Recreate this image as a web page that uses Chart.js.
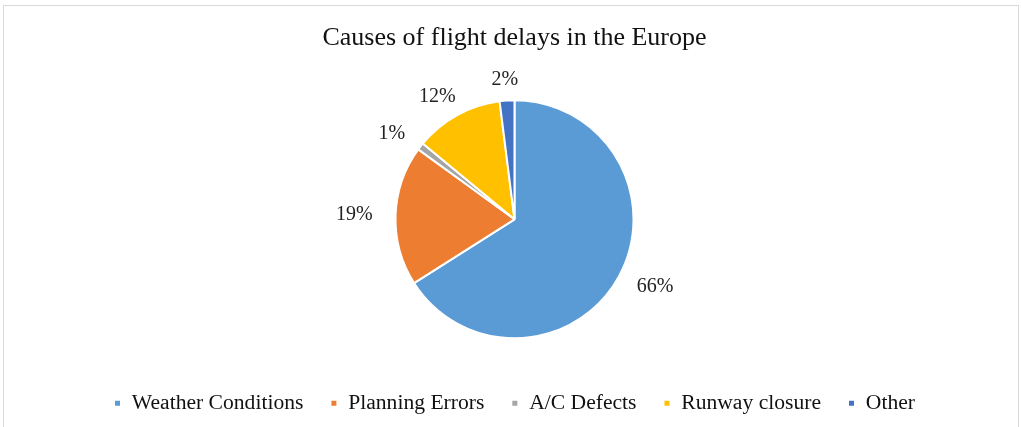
<!DOCTYPE html>
<html>
<head>
<meta charset="utf-8">
<script src="https://cdn.jsdelivr.net/npm/chart.js@4"></script>
<style>
  html, body { margin: 0; padding: 0; background: #fff; }
  .frame {
    position: absolute; left: 3px; top: 5px; width: 1016px; height: 440px;
    border: 1px solid #d9d9d9; box-sizing: border-box;
  }
  #wrap { position: absolute; left: 0; top: 0; width: 1021px; height: 427px; }
</style>
</head>
<body>
<div class="frame"></div>
<div id="wrap"><canvas id="delays"></canvas></div>
<script>
const causes = ['Weather Conditions', 'Planning Errors', 'A/C Defects', 'Runway closure', 'Other'];
const shares = [66, 19, 1, 12, 2];
const sliceColors = ['#5b9bd5', '#ed7d31', '#a5a5a5', '#ffc000', '#4472c4'];

const serif = '"Liberation Serif", "Times New Roman", serif';

// percentage labels just outside each slice
const outsideLabels = {
  id: 'outsideLabels',
  afterDatasetsDraw(chart) {
    const ctx = chart.ctx;
    const meta = chart.getDatasetMeta(0);
    const total = shares.reduce((a, b) => a + b, 0);
    ctx.save();
    ctx.font = '20px ' + serif;
    ctx.fillStyle = '#222';
    ctx.textAlign = 'center';
    ctx.textBaseline = 'middle';
    meta.data.forEach((arc, i) => {
      const p = arc.getProps(['x', 'y', 'startAngle', 'endAngle', 'outerRadius']);
      const mid = (p.startAngle + p.endAngle) / 2;
      const text = Math.round(shares[i] / total * 100) + '%';
      const w = ctx.measureText(text).width;
      const r = p.outerRadius + 13;
      // push the text box out so its inner edge clears the rim
      const x = p.x + Math.cos(mid) * (r + w / 2 + 10);
      const y = p.y + Math.sin(mid) * (r + 8);
      ctx.fillText(text, x, y);
    });
    ctx.restore();
  }
};

new Chart(document.getElementById('delays'), {
  type: 'pie',
  data: {
    labels: causes,
    datasets: [{
      data: shares,
      backgroundColor: sliceColors,
      borderColor: '#fff',
      borderWidth: 2,
      radius: 119
    }]
  },
  options: {
    responsive: true,
    maintainAspectRatio: false,
    animation: false,
    layout: { padding: { top: 0, bottom: 3, left: 8 } },
    plugins: {
      title: {
        display: true,
        text: 'Causes of flight delays in the Europe',
        color: '#111',
        font: { family: serif, size: 26, weight: 'normal' },
        padding: { top: 23, bottom: 19 }
      },
      legend: {
        position: 'bottom',
        labels: {
          color: '#111',
          font: { family: serif, size: 21.6 },
          boxWidth: 7,
          boxHeight: 7,
          padding: 27
        }
      },
      tooltip: { enabled: false }
    }
  },
  plugins: [outsideLabels]
});
</script>
</body>
</html>
